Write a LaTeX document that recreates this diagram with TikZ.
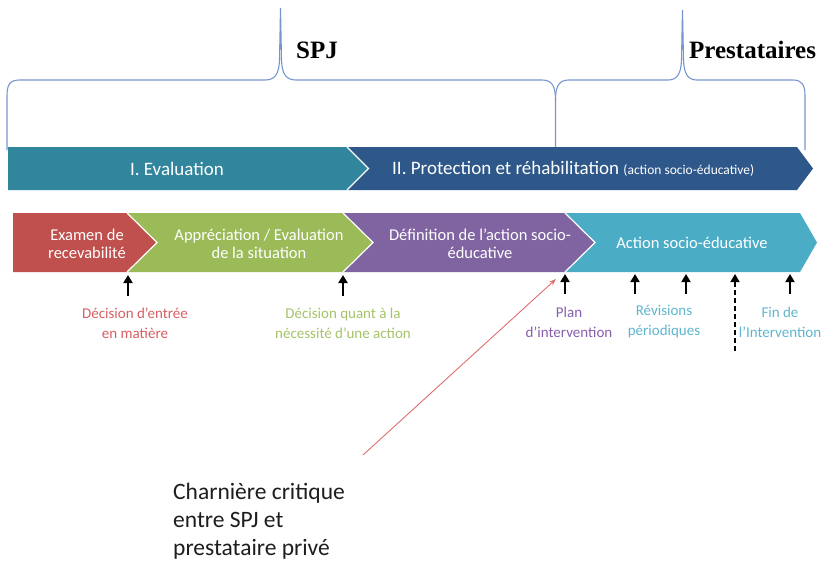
\documentclass[tikz,border=0pt]{standalone}
\usepackage{fontspec}
\setmainfont{Carlito}
\newfontfamily\serifbold{Liberation Serif}
\usetikzlibrary{arrows.meta}
\definecolor{cteal}{RGB}{49,133,156}
\definecolor{cprot}{RGB}{47,88,138}
\definecolor{cred}{RGB}{192,80,77}
\definecolor{cgreen}{RGB}{155,187,89}
\definecolor{cpurple}{RGB}{128,100,162}
\definecolor{ccyan}{RGB}{75,172,198}
\definecolor{cbrace}{RGB}{120,150,205}
\definecolor{lred}{RGB}{215,95,100}
\definecolor{lgreen}{RGB}{165,195,105}
\definecolor{lpurple}{RGB}{135,95,170}
\definecolor{lcyan}{RGB}{95,182,207}
\definecolor{hinge}{RGB}{224,110,110}
\definecolor{darktext}{RGB}{30,30,30}
\begin{document}
\begin{tikzpicture}[x=1pt,y=-1pt,
  bracestyle/.style={draw=cbrace,line width=1.1pt},
  sep/.style={draw=white,line width=1.2pt},
  bartxt/.style={text=white,inner sep=0pt,font=\fontsize{19}{22}\selectfont},
  segtxt/.style={text=white,inner sep=0pt,align=center,font=\fontsize{16.5}{18}\selectfont},
  lbl/.style={inner sep=0pt,align=center,font=\fontsize{15}{20}\selectfont},
  uparrow/.style={draw=black,line width=1.9pt,-{Triangle[width=9pt,length=8pt]}},
  hingeline/.style={draw=hinge,line width=0.9pt,-{Stealth[width=5pt,length=7pt]}},
  headtxt/.style={inner sep=0pt,font=\serifbold\bfseries\fontsize{25}{28}\selectfont}]
\useasboundingbox (0,0) rectangle (835,560);
\fill[white] (0,0) rectangle (835,560);

% braces
\draw[bracestyle] (7,150) -- (7,96) .. controls (7,84) and (10,80) .. (20,80)
  -- (265,80) .. controls (275,80) and (279,74) .. (279.5,60) -- (280.5,8)
  -- (281.5,60) .. controls (282,74) and (286,80) .. (296,80)
  -- (542,80) .. controls (552,80) and (555.5,86) .. (555.5,100) -- (555.5,150);
\draw[bracestyle] (555.5,100) .. controls (555.5,86) and (559,80) .. (569,80)
  -- (668,80) .. controls (677,80) and (681,74) .. (681.5,60) -- (682.5,10)
  -- (683.5,60) .. controls (684,74) and (688,80) .. (697,80)
  -- (793,80) .. controls (802,80) and (805,85) .. (805,96) -- (805,150);
\node[headtxt,anchor=base west] (spj) at (296,58) {SPJ};
\node[headtxt,anchor=base west] (prest) at (689,58) {Prestataires};

% top bar
\fill[cteal] (8,147) -- (347,147) -- (368.5,168.5) -- (347,190) -- (8,190) -- cycle;
\fill[cprot] (347,147) -- (797,147) -- (813,168.5) -- (797,190) -- (347,190) -- (368.5,168.5) -- cycle;
\draw[sep] (347,147) -- (368.5,168.5) -- (347,190);
\node[bartxt] (evaltxt) at (177,169) {I. Evaluation};
\node[bartxt,anchor=west] (prottxt) at (392,169) {II. Protection et réhabilitation {\fontsize{13.5}{15}\selectfont (action socio-éducative)}};

% second bar
\fill[cred] (13,213) -- (127,213) -- (157,242.5) -- (127,272) -- (13,272) -- cycle;
\fill[cgreen] (127,213) -- (343,213) -- (373,242.5) -- (343,272) -- (127,272) -- (157,242.5) -- cycle;
\fill[cpurple] (343,213) -- (565,213) -- (595,242.5) -- (565,272) -- (343,272) -- (373,242.5) -- cycle;
\fill[ccyan] (565,213) -- (800,213) -- (817,242.5) -- (800,272) -- (565,272) -- (595,242.5) -- cycle;
\draw[sep] (127,213) -- (157,242.5) -- (127,272);
\draw[sep] (343,213) -- (373,242.5) -- (343,272);
\draw[sep] (565,213) -- (595,242.5) -- (565,272);
\node[segtxt] (s1) at (87,244) {Examen de\\recevabilité};
\node[segtxt] (s2) at (259,244) {Appréciation / Evaluation\\de la situation};
\node[segtxt] (s3) at (480,244) {Définition de l’action socio-\\éducative};
\node[segtxt] (s4) at (692,243) {Action socio-éducative};

% arrows under bar
\coordinate (t1) at (128,275); \coordinate (b1) at (128,296);
\coordinate (t2) at (343,275); \coordinate (b2) at (343,296);
\coordinate (t3) at (565,274); \coordinate (b3) at (565,294);
\coordinate (t4) at (635,274); \coordinate (b4) at (635,294);
\coordinate (t5) at (686,274); \coordinate (b5) at (686,294);
\coordinate (t6) at (735,274); \coordinate (b6) at (735,351);
\coordinate (t7) at (790,274); \coordinate (b7) at (790,294);
\draw[uparrow] (b1) -- (t1);
\draw[uparrow] (b2) -- (t2);
\draw[uparrow] (b3) -- (t3);
\draw[uparrow] (b4) -- (t4);
\draw[uparrow] (b5) -- (t5);
\draw[uparrow,line width=1.6pt,dash pattern=on 5pt off 3pt] (b6) -- (t6);
\draw[uparrow] (b7) -- (t7);

% labels
\node[lbl,text=lred] (l1) at (135,323) {Décision d’entrée\\en matière};
\node[lbl,text=lgreen] (l2) at (343,323) {Décision quant à la\\nécessité d’une action};
\node[lbl,text=lpurple] (l3) at (569,322) {Plan\\d’intervention};
\node[lbl,text=lcyan] (l4) at (664,322) {Révisions\\périodiques};
\node[lbl,text=lcyan] (l5) at (780,322) {Fin de\\l’Intervention};

% hinge note
\node[inner sep=0pt,align=left,anchor=west,text=darktext,font=\fontsize{23.5}{28}\selectfont] (note) at (173,521) {Charnière critique\\entre SPJ et\\prestataire privé};
\coordinate (hstart) at (363,455);
\coordinate (hend) at (556,279);
\draw[hingeline] (hstart) -- (hend);
\end{tikzpicture}
\end{document}
